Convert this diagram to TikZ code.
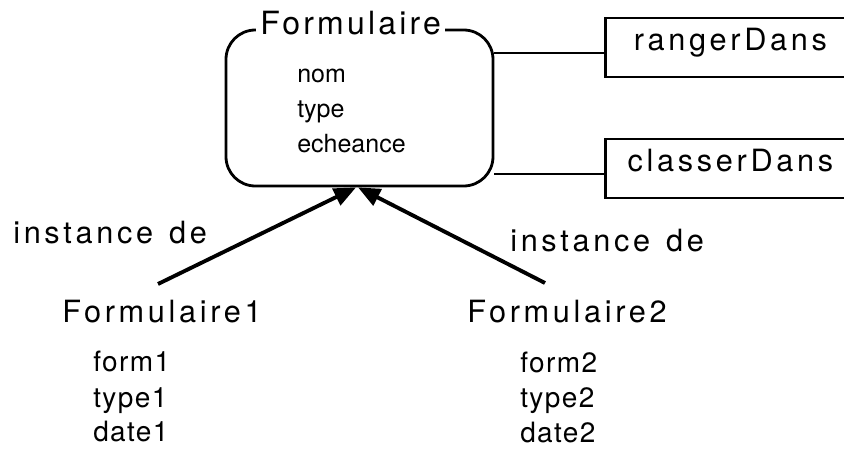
\documentclass[tikz,border=0pt]{standalone}
\usepackage{fontspec}
\setmainfont{TeX Gyre Heros}
\usetikzlibrary{arrows.meta}
\newfontfamily\trackA[LetterSpace=10]{TeX Gyre Heros}
\newfontfamily\trackB[LetterSpace=12]{TeX Gyre Heros}
\newfontfamily\trackC[LetterSpace=5]{TeX Gyre Heros}
\tikzset{
  titlefont/.style={font=\trackA\fontsize{24pt}{28pt}\selectfont},
  lbl/.style={font=\trackB\fontsize{23pt}{27pt}\selectfont, inner sep=0pt, anchor=base west},
  attr/.style={font=\fontsize{18.75pt}{22pt}\selectfont, inner sep=0pt, anchor=base west},
  iattr/.style={font=\trackC\fontsize{21pt}{25pt}\selectfont, inner sep=0pt, anchor=base west},
  classbox/.style={draw, line width=2.1pt, rounded corners=22pt, minimum width=200.25pt, minimum height=117pt, fill=white},
  relbox/.style={draw, line width=2.1pt, anchor=west, minimum width=187.5pt, minimum height=44.25pt,
    font=\trackB\fontsize{23pt}{27pt}\selectfont, text height=0.72em, text depth=0.21em},
  link/.style={line width=2.1pt},
  inst/.style={line width=2.9pt, -{Triangle[length=16.5pt, width=13.5pt]}}
}
\begin{document}
\begin{tikzpicture}[x=0.75pt, y=-0.75pt]
\useasboundingbox (0,0) rectangle (844,449);
\clip (0,0) rectangle (844,449);
\fill[white] (0,0) rectangle (844,449);
% instance arrows
\coordinate (s1) at (158,284);
\coordinate (s2) at (545,283);
\node[classbox] (form) at (359.5,108) {};
\draw[inst] (s1) -- ([xshift=-2.6pt]form.south);
\draw[inst] (s2) -- ([xshift=-1.1pt]form.south);
\node[titlefont, fill=white, inner xsep=3pt, inner ysep=1pt, anchor=base west] (ftitle) at (256,35) {Formulaire};
\node[attr] (nom) at (297,83) {nom};
\node[attr] (type) at (297,118) {type};
\node[attr] (ech) at (297,153) {echeance};
% relation boxes
\node[relbox] (rd) at (604,47.5) {rangerDans};
\node[relbox] (cd) at (604,168.5) {classerDans};
\draw[link] ([yshift=-4.1pt]rd.west) -- ([yshift=-4.1pt]rd.west -| form.east);
\draw[link] ([yshift=-4.1pt]cd.west) -- ([yshift=-4.1pt]cd.west -| form.east);
% labels
\node[lbl] (i1) at (13,244) {instance\hspace{12pt}de};
\node[lbl] (i2) at (510,252) {instance\hspace{12pt}de};
\node[lbl] (f1) at (62,323) {Formulaire1};
\node[lbl] (f2) at (467,323) {Formulaire2};
\node[iattr] (a11) at (93,372) {form1};
\node[iattr] (a12) at (93,407) {type1};
\node[iattr] (a13) at (93,442) {date1};
\node[iattr] (a21) at (520,373) {form2};
\node[iattr] (a22) at (520,408) {type2};
\node[iattr] (a23) at (520,443) {date2};
\end{tikzpicture}
\end{document}
